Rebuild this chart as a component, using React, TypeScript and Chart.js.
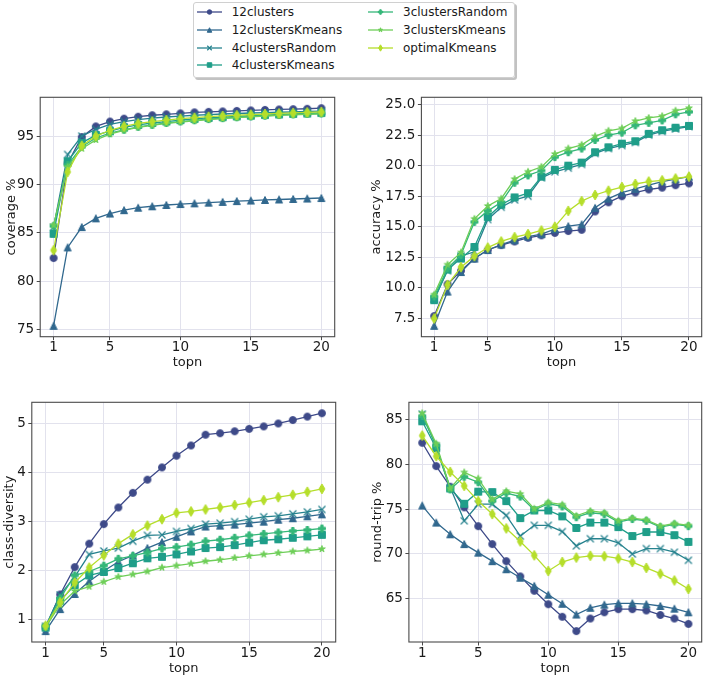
import React, { useEffect, useRef } from "react";
import { Chart, registerables } from "chart.js";

Chart.register(...registerables);

const FONT = "'DejaVu Sans', 'Liberation Sans', sans-serif";
const TEXT = "#1a1a1a";
const GRID = "#e2e2ed";
const SPINE = "#4a4a4a";

// ---------------- data ----------------
const topn = [1, 2, 3, 4, 5, 6, 7, 8, 9, 10, 11, 12, 13, 14, 15, 16, 17, 18, 19, 20];
const xTicks = [1, 5, 10, 15, 20];

const seriesNames = ["12clusters", "12clustersKmeans", "4clustersRandom", "4clustersKmeans", "3clustersRandom", "3clustersKmeans", "optimalKmeans"];
const seriesColors = ["#3e4a89", "#31688e", "#26828e", "#1f9e89", "#35b779", "#6ece58", "#b5de2b"];
const seriesMarkers = ["circle", "triangle", "x", "square", "plus", "star", "thinDiamond"];

// coverage %
const cov12clusters = [82.4, 92.2, 94.9, 96.0, 96.5, 96.8, 97.0, 97.15, 97.25, 97.35, 97.45, 97.5, 97.55, 97.6, 97.65, 97.7, 97.75, 97.78, 97.82, 97.88];
const cov12clustersKmeans = [75.4, 83.5, 85.6, 86.5, 87.0, 87.35, 87.6, 87.75, 87.88, 87.98, 88.05, 88.12, 88.2, 88.28, 88.34, 88.4, 88.45, 88.5, 88.55, 88.6];
const cov4clustersRandom = [85.6, 93.1, 95.0, 95.7, 96.2, 96.5, 96.7, 96.85, 96.97, 97.07, 97.15, 97.22, 97.28, 97.33, 97.38, 97.42, 97.46, 97.5, 97.54, 97.58];
const cov4clustersKmeans = [84.9, 92.4, 94.3, 95.1, 95.5, 95.9, 96.15, 96.35, 96.5, 96.65, 96.77, 96.87, 96.95, 97.03, 97.1, 97.17, 97.23, 97.28, 97.33, 97.38];
const cov3clustersRandom = [85.7, 92.0, 93.9, 94.8, 95.3, 95.65, 95.95, 96.15, 96.35, 96.5, 96.63, 96.75, 96.85, 96.94, 97.02, 97.1, 97.17, 97.23, 97.28, 97.33];
const cov3clustersKmeans = [85.8, 91.8, 93.7, 94.6, 95.2, 95.6, 95.9, 96.1, 96.3, 96.45, 96.58, 96.7, 96.8, 96.9, 96.98, 97.06, 97.13, 97.19, 97.25, 97.3];
const covOptimalKmeans = [83.2, 91.3, 94.0, 95.0, 95.6, 96.0, 96.3, 96.5, 96.65, 96.8, 96.9, 97.0, 97.08, 97.15, 97.22, 97.28, 97.34, 97.4, 97.45, 97.5];
const coverageTicks = [75, 80, 85, 90, 95];

// accuracy %
const acc12clusters = [7.7, 10.3, 11.4, 12.4, 13.1, 13.5, 13.8, 14.1, 14.3, 14.5, 14.65, 14.75, 16.25, 17.0, 17.5, 17.8, 18.05, 18.2, 18.4, 18.55];
const acc12clustersKmeans = [6.9, 9.7, 11.3, 12.4, 13.1, 13.55, 13.9, 14.2, 14.4, 14.8, 15.05, 15.2, 16.55, 17.3, 17.8, 18.1, 18.4, 18.7, 18.9, 19.1];
const acc4clustersRandom = [9.1, 11.4, 12.6, 12.95, 15.6, 16.6, 17.2, 17.5, 19.0, 19.5, 19.8, 20.1, 21.0, 21.4, 21.65, 21.9, 22.5, 22.8, 23.0, 23.2];
const acc4clustersKmeans = [9.0, 11.5, 12.4, 13.35, 15.8, 16.8, 17.4, 17.75, 19.1, 19.65, 20.0, 20.25, 21.1, 21.5, 21.8, 22.0, 22.6, 22.9, 23.1, 23.25];
const acc3clustersRandom = [9.3, 11.6, 12.7, 15.4, 16.3, 17.0, 18.6, 19.2, 19.6, 20.7, 21.1, 21.4, 22.1, 22.5, 22.7, 23.3, 23.5, 23.7, 24.2, 24.4];
const acc3clustersKmeans = [9.45, 11.9, 12.9, 15.65, 16.7, 17.3, 18.9, 19.5, 19.9, 20.95, 21.4, 21.7, 22.4, 22.85, 23.05, 23.65, 23.9, 24.05, 24.5, 24.7];
const accOptimalKmeans = [7.5, 10.25, 11.7, 12.6, 13.3, 13.8, 14.15, 14.4, 14.7, 15.0, 16.3, 17.1, 17.6, 17.95, 18.25, 18.5, 18.7, 18.8, 18.95, 19.1];
const accuracyTicks = [7.5, 10, 12.5, 15, 17.5, 20, 22.5, 25];

// class-diversity
const div12clusters = [0.84, 1.51, 2.07, 2.55, 2.95, 3.29, 3.59, 3.86, 4.11, 4.35, 4.56, 4.78, 4.81, 4.85, 4.9, 4.95, 5.01, 5.08, 5.15, 5.22];
const div12clustersKmeans = [0.76, 1.21, 1.52, 1.78, 1.99, 2.18, 2.31, 2.46, 2.58, 2.69, 2.8, 2.9, 2.92, 2.94, 2.97, 3.0, 3.04, 3.07, 3.11, 3.15];
const div4clustersRandom = [0.86, 1.5, 1.87, 2.33, 2.4, 2.46, 2.6, 2.72, 2.73, 2.8, 2.86, 2.95, 2.97, 3.0, 3.05, 3.1, 3.12, 3.16, 3.2, 3.25];
const div4clustersKmeans = [0.83, 1.38, 1.7, 1.9, 1.97, 2.05, 2.15, 2.25, 2.28, 2.33, 2.39, 2.46, 2.48, 2.52, 2.57, 2.62, 2.64, 2.67, 2.7, 2.73];
const div3clustersRandom = [0.86, 1.43, 1.9, 1.98, 2.1, 2.24, 2.3, 2.37, 2.45, 2.48, 2.53, 2.6, 2.63, 2.67, 2.72, 2.75, 2.78, 2.81, 2.83, 2.86];
const div3clustersKmeans = [0.84, 1.3, 1.58, 1.67, 1.77, 1.87, 1.92, 1.98, 2.06, 2.1, 2.14, 2.19, 2.22, 2.26, 2.3, 2.33, 2.36, 2.39, 2.41, 2.44];
const divOptimalKmeans = [0.87, 1.35, 1.75, 2.06, 2.31, 2.55, 2.74, 2.92, 3.05, 3.18, 3.21, 3.25, 3.29, 3.34, 3.39, 3.44, 3.5, 3.55, 3.61, 3.67];
const diversityTicks = [1, 2, 3, 4, 5];

// round-trip %
const rt12clusters = [82.4, 79.8, 77.5, 75.2, 73.1, 71.1, 69.2, 67.5, 65.9, 64.4, 63.0, 61.4, 62.8, 63.5, 63.85, 63.85, 63.7, 63.2, 62.8, 62.2];
const rt12clustersKmeans = [75.4, 73.5, 72.2, 71.1, 70.15, 69.2, 68.3, 67.35, 66.45, 65.45, 64.45, 63.25, 64.0, 64.35, 64.5, 64.5, 64.4, 64.2, 63.9, 63.5];
const rt4clustersRandom = [85.6, 82.0, 77.4, 73.7, 75.55, 75.55, 74.3, 72.0, 73.2, 73.2, 72.5, 70.9, 71.7, 71.7, 71.25, 70.0, 70.6, 70.6, 70.2, 69.3];
const rt4clustersKmeans = [84.8, 81.8, 77.3, 75.6, 76.95, 76.9, 75.9, 74.0, 74.85, 74.85, 74.2, 72.9, 73.5, 73.5, 73.0, 72.0, 72.45, 72.45, 72.1, 71.35];
const rt3clustersRandom = [85.4, 82.1, 77.2, 78.6, 78.0, 75.9, 76.8, 76.4, 74.9, 75.6, 75.3, 74.1, 74.6, 74.45, 73.55, 73.9, 73.7, 73.0, 73.3, 73.1];
const rt3clustersKmeans = [85.7, 82.3, 77.3, 79.1, 78.4, 76.1, 77.0, 76.7, 75.05, 75.75, 75.5, 74.25, 74.8, 74.6, 73.7, 74.0, 73.8, 73.1, 73.4, 73.2];
const rtOptimalKmeans = [83.2, 80.9, 79.15, 77.6, 75.9, 74.45, 72.85, 71.4, 69.85, 68.1, 69.1, 69.6, 69.8, 69.75, 69.5, 69.1, 68.45, 67.8, 67.05, 66.1];
const roundTripTicks = [65, 70, 75, 80, 85];

// ---------------- layout ----------------
type Box = { L: number; T: number; R: number; B: number };
type Panel = {
  ylabel: string;
  series: number[][];
  yTicks: number[];
  decimals: number;
  box: Box;
  yTitleX: number;
  xTitleY: number;
};

const panels: Panel[] = [
  {
    ylabel: "coverage %",
    series: [cov12clusters, cov12clustersKmeans, cov4clustersRandom, cov4clustersKmeans, cov3clustersRandom, cov3clustersKmeans, covOptimalKmeans],
    yTicks: coverageTicks, decimals: 0,
    box: { L: 40.2, T: 96.8, R: 336.8, B: 336.7 }, yTitleX: 11.7, xTitleY: 363,
  },
  {
    ylabel: "accuracy %",
    series: [acc12clusters, acc12clustersKmeans, acc4clustersRandom, acc4clustersKmeans, acc3clustersRandom, acc3clustersKmeans, accOptimalKmeans],
    yTicks: accuracyTicks, decimals: 1,
    box: { L: 421.4, T: 96.8, R: 704.9, B: 336.7 }, yTitleX: 377, xTitleY: 363,
  },
  {
    ylabel: "class-diversity",
    series: [div12clusters, div12clustersKmeans, div4clustersRandom, div4clustersKmeans, div3clustersRandom, div3clustersKmeans, divOptimalKmeans],
    yTicks: diversityTicks, decimals: 0,
    box: { L: 31.8, T: 401.8, R: 337.2, B: 642 }, yTitleX: 10, xTitleY: 668.5,
  },
  {
    ylabel: "round-trip %",
    series: [rt12clusters, rt12clustersKmeans, rt4clustersRandom, rt4clustersKmeans, rt3clustersRandom, rt3clustersKmeans, rtOptimalKmeans],
    yTicks: roundTripTicks, decimals: 0,
    box: { L: 408.9, T: 401.8, R: 704.7, B: 642 }, yTitleX: 377.5, xTitleY: 668.5,
  },
];

// ---------------- markers ----------------
function paintMarker(ctx: CanvasRenderingContext2D, kind: string, color: string, s: number, cx: number, cy: number) {
  ctx.save();
  ctx.translate(cx, cy);
  ctx.fillStyle = color;
  ctx.strokeStyle = color;
  ctx.lineJoin = "miter";
  ctx.lineCap = "butt";
  const h = s / 2;
  ctx.beginPath();
  if (kind === "x") {
    ctx.lineWidth = 1.2;
    ctx.moveTo(-h, -h); ctx.lineTo(h, h);
    ctx.moveTo(-h, h); ctx.lineTo(h, -h);
    ctx.stroke();
    ctx.restore();
    return;
  }
  if (kind === "circle") {
    ctx.arc(0, 0, h, 0, Math.PI * 2);
  } else if (kind === "triangle") {
    ctx.moveTo(0, -h); ctx.lineTo(h, h); ctx.lineTo(-h, h); ctx.closePath();
  } else if (kind === "square") {
    ctx.rect(-h, -h, s, s);
  } else if (kind === "plus") {
    const pts = [[-1, -3], [1, -3], [1, -1], [3, -1], [3, 1], [1, 1], [1, 3], [-1, 3], [-1, 1], [-3, 1], [-3, -1], [-1, -1]];
    pts.forEach(([px, py], k) => {
      const X = (px / 6) * s, Y = (py / 6) * s;
      if (k === 0) ctx.moveTo(X, Y); else ctx.lineTo(X, Y);
    });
    ctx.closePath();
  } else if (kind === "star") {
    for (let k = 0; k < 10; k++) {
      const r = k % 2 === 0 ? h : h * 0.381966;
      const a = -Math.PI / 2 + (k * Math.PI) / 5;
      const X = r * Math.cos(a), Y = r * Math.sin(a);
      if (k === 0) ctx.moveTo(X, Y); else ctx.lineTo(X, Y);
    }
    ctx.closePath();
  } else if (kind === "thinDiamond") {
    const dy = 0.707 * s, dx = 0.424 * s;
    ctx.moveTo(0, -dy); ctx.lineTo(dx, 0); ctx.lineTo(0, dy); ctx.lineTo(-dx, 0); ctx.closePath();
  }
  ctx.fill();
  ctx.lineWidth = 1;
  ctx.stroke();
  ctx.restore();
}

function markerImage(kind: string, color: string, s: number): HTMLCanvasElement {
  const c = document.createElement("canvas");
  const size = 2 * Math.ceil(s * 0.75 + 2);
  c.width = size;
  c.height = size;
  const ctx = c.getContext("2d")!;
  paintMarker(ctx, kind, color, s, size / 2, size / 2);
  return c;
}

const framePlugin = {
  id: "frame",
  afterDraw(chart: any) {
    const { ctx, chartArea } = chart;
    const { left, top, right, bottom } = chartArea;
    ctx.save();
    ctx.strokeStyle = SPINE;
    ctx.lineWidth = 1.1;
    ctx.strokeRect(left, top, right - left, bottom - top);
    ctx.restore();
  },
};

function ChartPanel({ panel }: { panel: Panel }) {
  const ref = useRef<HTMLCanvasElement>(null);
  const { box } = panel;
  const cx = Math.floor(panel.yTitleX - 6.5);
  const cy = Math.floor(box.T - 4);
  const cr = Math.min(707, Math.ceil(box.R + 3));
  const cb = Math.ceil(panel.xTitleY + 8);
  const cw = cr - cx;
  const ch = cb - cy;

  useEffect(() => {
    const canvas = ref.current!;
    const all = panel.series.flat();
    const lo = Math.min(...all), hi = Math.max(...all);
    const m = (hi - lo) * 0.05;
    const xlo = Math.min(...topn), xhi = Math.max(...topn);
    const xm = (xhi - xlo) * 0.05;
    const n = seriesNames.length;
    const datasets = seriesNames.map((name, i) => ({
      label: name,
      data: topn.map((x, j) => ({ x, y: panel.series[i][j] })),
      borderColor: seriesColors[i],
      backgroundColor: seriesColors[i],
      borderWidth: 1.3,
      pointStyle: markerImage(seriesMarkers[i], seriesColors[i], 7),
      pointRadius: 4,
      pointHoverRadius: 4,
      tension: 0,
      fill: false,
      order: n - 1 - i,
    }));
    const tickFont = { family: FONT, size: 13.5, lineHeight: 1 };
    const titleFont = { family: FONT, size: 13, lineHeight: 1 };
    const chart = new Chart(canvas, {
      type: "line",
      data: { datasets } as any,
      options: {
        animation: false,
        responsive: false,
        events: [],
        layout: { padding: { left: 0, top: box.T - cy, right: cr - box.R, bottom: 0 } },
        plugins: { legend: { display: false }, tooltip: { enabled: false } },
        scales: {
          x: {
            type: "linear",
            min: xlo - xm,
            max: xhi + xm,
            afterBuildTicks: (s: any) => { s.ticks = xTicks.map((v) => ({ value: v })); },
            afterFit: (s: any) => { s.height = cb - box.B; s.paddingLeft = 0; s.paddingRight = 0; },
            ticks: { autoSkip: false, maxRotation: 0, minRotation: 0, padding: 1, color: TEXT, font: tickFont, callback: (v: any) => String(v) },
            grid: { color: GRID, lineWidth: 1, drawTicks: true, tickLength: 3.5, tickColor: SPINE, tickWidth: 1 },
            border: { display: false },
            title: { display: true, text: "topn", color: TEXT, font: titleFont, padding: { top: 0, bottom: cb - panel.xTitleY - 6.5 } },
          },
          y: {
            type: "linear",
            min: lo - m,
            max: hi + m,
            afterBuildTicks: (s: any) => { s.ticks = panel.yTicks.map((v) => ({ value: v })); },
            afterFit: (s: any) => { s.width = box.L - cx; s.paddingTop = 0; s.paddingBottom = 0; },
            ticks: { autoSkip: false, padding: 2.5, color: TEXT, font: tickFont, callback: (v: any) => Number(v).toFixed(panel.decimals) },
            grid: { color: GRID, lineWidth: 1, drawTicks: true, tickLength: 3.5, tickColor: SPINE, tickWidth: 1 },
            border: { display: false },
            title: { display: true, text: panel.ylabel, color: TEXT, font: titleFont, padding: { top: panel.yTitleX - cx - 6.5, bottom: 0 } },
          },
        },
      } as any,
      plugins: [framePlugin],
    });
    return () => chart.destroy();
  }, []);

  return (
    <canvas
      ref={ref}
      width={cw}
      height={ch}
      style={{ position: "absolute", left: cx, top: cy, width: cw, height: ch }}
    />
  );
}

function LegendHandle({ i, left, top }: { i: number; left: number; top: number }) {
  const ref = useRef<HTMLCanvasElement>(null);
  useEffect(() => {
    const c = ref.current!;
    const ctx = c.getContext("2d")!;
    ctx.clearRect(0, 0, c.width, c.height);
    ctx.strokeStyle = seriesColors[i];
    ctx.lineWidth = 1.3;
    ctx.beginPath();
    ctx.moveTo(0, 6);
    ctx.lineTo(25, 6);
    ctx.stroke();
    paintMarker(ctx, seriesMarkers[i], seriesColors[i], 4.5, 12.5, 6);
  }, [i]);
  return <canvas ref={ref} width={26} height={12} style={{ position: "absolute", left, top }} />;
}

function Legend() {
  const rowY = [11.7, 29.6, 47.5, 65.4];
  const colHandle = [197, 368];
  const colText = [231.7, 403];
  return (
    <>
      <div
        style={{
          position: "absolute",
          left: 192.5,
          top: 1.5,
          width: 322.5,
          height: 76.5,
          boxSizing: "border-box",
          border: "1px solid #d0d0d0",
          borderRadius: 3,
          background: "rgba(255,255,255,0.85)",
          boxShadow: "2px 2px 0 rgba(120,120,120,0.45)",
        }}
      />
      {seriesNames.map((name, i) => {
        const col = i < 4 ? 0 : 1;
        const row = i < 4 ? i : i - 4;
        const y = rowY[row];
        return (
          <React.Fragment key={name}>
            <LegendHandle i={i} left={colHandle[col]} top={Math.round(y) - 6} />
            <div
              style={{
                position: "absolute",
                left: colText[col],
                top: y - 8,
                height: 16,
                lineHeight: "16px",
                fontFamily: FONT,
                fontSize: 12,
                color: TEXT,
                whiteSpace: "nowrap",
              }}
            >
              {name}
            </div>
          </React.Fragment>
        );
      })}
    </>
  );
}

export default function App() {
  return (
    <div style={{ position: "absolute", left: 0, top: 0, width: 707, height: 679, background: "#fff", overflow: "hidden" }}>
      <Legend />
      {panels.map((p) => (
        <ChartPanel key={p.ylabel} panel={p} />
      ))}
    </div>
  );
}
